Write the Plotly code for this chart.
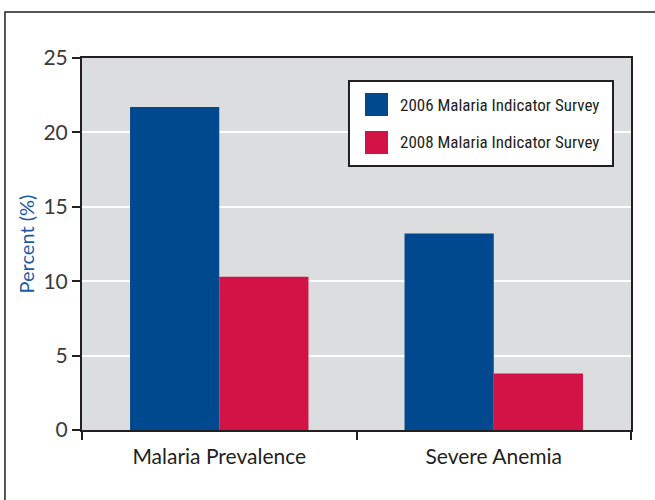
import plotly.graph_objects as go

# survey results (%)
categories = ['Malaria Prevalence', 'Severe Anemia']
survey_2006 = [21.7, 13.2]
survey_2008 = [10.3, 3.8]
series_names = ['2006 Malaria Indicator Survey', '2008 Malaria Indicator Survey']

blue = '#00498f'
red = '#d31245'
ink = '#231f20'

fig = go.Figure()
fig.add_trace(go.Bar(x=categories, y=survey_2006, name=series_names[0],
                     marker=dict(color=blue, line_width=0)))
fig.add_trace(go.Bar(x=categories, y=survey_2008, name=series_names[1],
                     marker=dict(color=red, line_width=0)))

fig.update_layout(
    width=655, height=500,
    margin=dict(l=82, r=24, t=58, b=70, autoexpand=False),
    paper_bgcolor='white', plot_bgcolor='#dcdddf',
    barmode='group', bargap=0.35, bargroupgap=0,
    font=dict(family='Lato, sans-serif', size=20, color=ink),
    showlegend=False,
)
fig.update_xaxes(type='category', tickson='boundaries', ticks='outside', ticklen=8, tickwidth=2,
                 tickcolor=ink, showline=True, linecolor=ink, linewidth=2, mirror=True,
                 showgrid=False, automargin=False, ticklabelstandoff=7,
                 tickfont=dict(size=21, color=ink))
fig.update_yaxes(range=[0, 25], dtick=5, ticks='outside', ticklen=8, tickwidth=2, tickcolor=ink,
                 showline=True, linecolor=ink, linewidth=2, mirror=True,
                 showgrid=True, gridcolor='white', gridwidth=1.5, zeroline=False, automargin=False,
                 tickfont=dict(size=21, color='#3a3a3a'),
                 title=dict(text='Percent (%)', font=dict(size=20, color='#1d5aa5'), standoff=3))

# legend box drawn by hand so the swatches match the big squares
fig.add_shape(type='rect', xref='paper', yref='paper', x0=0.4863, x1=0.9672, y0=0.7097, y1=0.9382,
              line=dict(color=ink, width=2), fillcolor='white')
swatch_y = [(0.8441, 0.9059), (0.7419, 0.8038)]
for name, col, (ya, yb) in zip(series_names, [blue, red], swatch_y):
    fig.add_shape(type='rect', xref='paper', yref='paper', x0=0.5155, x1=0.5574, y0=ya, y1=yb,
                  line_width=0, fillcolor=col)
    fig.add_annotation(xref='paper', yref='paper', x=0.5756, y=(ya + yb) / 2, text=name,
                       showarrow=False, xanchor='left', yanchor='middle',
                       font=dict(family='Liberation Sans Narrow, Roboto Condensed, Lato', size=17, color=ink))

# outer frame of the figure (cropped on right and bottom)
fig.add_shape(type='rect', xref='paper', yref='paper', x0=-0.1403, x1=1.2, y0=-0.5, y1=1.1237,
              line=dict(color=ink, width=1.5), fillcolor='rgba(0,0,0,0)', layer='below')

fig.write_html('out.html', config={'displayModeBar': False},
               post_script="document.body.style.margin='0';")
